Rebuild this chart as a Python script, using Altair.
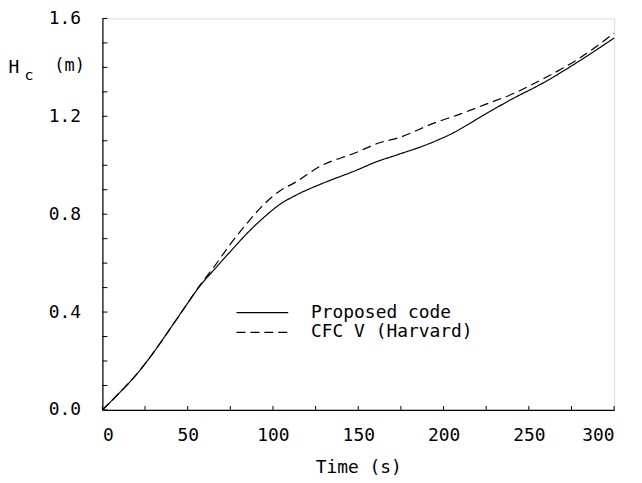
import altair as alt
import pandas as pd

# ---- data ----
series_names = ["Proposed code", "CFC V (Harvard)"]

t_proposed = [0, 10, 20, 30, 40, 47, 57, 67, 76, 86, 95, 104, 113, 128, 148, 161, 173, 190, 205, 225, 240, 258, 278, 300]
h_proposed = [0, 0.07, 0.145, 0.235, 0.335, 0.406, 0.505, 0.585, 0.655, 0.73, 0.789, 0.84, 0.876, 0.923, 0.977,
              1.015, 1.043, 1.084, 1.13, 1.211, 1.27, 1.335, 1.419, 1.52]

t_cfc = [0, 10, 20, 30, 40, 47, 57, 66, 74, 85, 96, 104, 113, 128, 148, 163, 173, 194, 210, 225, 240, 258, 278, 300]
h_cfc = [0, 0.07, 0.145, 0.235, 0.335, 0.406, 0.508, 0.59, 0.668, 0.765, 0.849, 0.895, 0.93, 0.997, 1.05, 1.093,
         1.111, 1.171, 1.21, 1.25, 1.29, 1.352, 1.43, 1.54]

x_label_values = [0, 50, 100, 150, 200, 250, 300]
y_label_values = [0.0, 0.4, 0.8, 1.2, 1.6]
x_minor_ticks = [0, 25, 50, 75, 100, 125, 150, 175, 200, 225, 250, 275, 300]
y_minor_ticks = [0.0, 0.1, 0.2, 0.3, 0.4, 0.5, 0.6, 0.7, 0.8, 0.9, 1.0, 1.1, 1.2, 1.3, 1.4, 1.5, 1.6]

FONT = "DejaVu Sans Mono"
W, H = 515, 394

df = pd.concat([
    pd.DataFrame({"t": t_proposed, "h": h_proposed, "series": series_names[0]}),
    pd.DataFrame({"t": t_cfc, "h": h_cfc, "series": series_names[1]}),
])

xscale = alt.Scale(domain=[0, 300], nice=False, zero=True)
yscale = alt.Scale(domain=[0, 1.6], nice=False, zero=True)
dash_scale = alt.Scale(domain=series_names, range=[[1, 0], [9, 5]])

x_axis = alt.Axis(title="Time (s)", values=x_label_values, format="d", ticks=False,
                  grid=False, domainColor="black", domainWidth=1.2,
                  labelFont=FONT, labelFontSize=18, labelColor="black", labelPadding=17,
                  titleFont=FONT, titleFontSize=18, titleFontWeight="normal",
                  titleColor="black", titlePadding=14)
y_axis = alt.Axis(title=None, values=y_label_values, format=".1f", ticks=False,
                  grid=False, domainColor="black", domainWidth=1.2,
                  labelFont=FONT, labelFontSize=18, labelColor="black", labelPadding=22)

lines = alt.Chart(df).mark_line(color="black", strokeWidth=1.2, interpolate="monotone").encode(
    x=alt.X("t:Q", scale=xscale, axis=x_axis),
    y=alt.Y("h:Q", scale=yscale, axis=y_axis),
    strokeDash=alt.StrokeDash("series:N", scale=dash_scale, legend=None),
    detail="series:N",
)

xt = alt.Chart(pd.DataFrame({"t": x_minor_ticks})).mark_rule(color="black", strokeWidth=1).encode(
    x=alt.X("t:Q", scale=xscale, axis=x_axis),
    y=alt.value(H), y2=alt.value(H - 4),
)
yt = alt.Chart(pd.DataFrame({"h": y_minor_ticks})).mark_rule(color="black", strokeWidth=1).encode(
    y=alt.Y("h:Q", scale=yscale, axis=y_axis),
    x=alt.value(0), x2=alt.value(5),
)

# y-axis title "H_c (m)"
ttl_h = alt.Chart(pd.DataFrame({"s": ["H"]})).mark_text(
    font=FONT, fontSize=18, color="black", align="center", baseline="middle").encode(
    text="s:N", x=alt.value(-89), y=alt.value(50))
ttl_c = alt.Chart(pd.DataFrame({"s": ["c"]})).mark_text(
    font=FONT, fontSize=15, color="black", align="center", baseline="middle").encode(
    text="s:N", x=alt.value(-74), y=alt.value(57))
ttl_m = alt.Chart(pd.DataFrame({"s": ["(m)"]})).mark_text(
    font=FONT, fontSize=17, color="black", align="center", baseline="middle").encode(
    text="s:N", x=alt.value(-33), y=alt.value(48))

# manual legend
legend_layers = []
for i, name in enumerate(series_names):
    ly = 296 + 20 * i
    ldf = pd.DataFrame({"series": [name]})
    legend_layers.append(
        alt.Chart(ldf).mark_rule(color="black", strokeWidth=1.2).encode(
            x=alt.value(135), x2=alt.value(187), y=alt.value(ly),
            strokeDash=alt.StrokeDash("series:N", scale=dash_scale, legend=None)))
    legend_layers.append(
        alt.Chart(ldf).mark_text(font=FONT, fontSize=18, color="black", align="left",
                                 baseline="middle").encode(
            text="series:N", x=alt.value(210), y=alt.value(ly)))

chart = alt.layer(lines, xt, yt, ttl_h, ttl_c, ttl_m, *legend_layers).properties(
    width=W, height=H,
    autosize=alt.AutoSizeParams(type="none"),
    padding={"left": 95, "top": 9, "right": 20, "bottom": 71},
).configure_view(stroke=None).configure(background="white")

chart.save("out.html", embed_options={"renderer": "svg", "actions": False})
